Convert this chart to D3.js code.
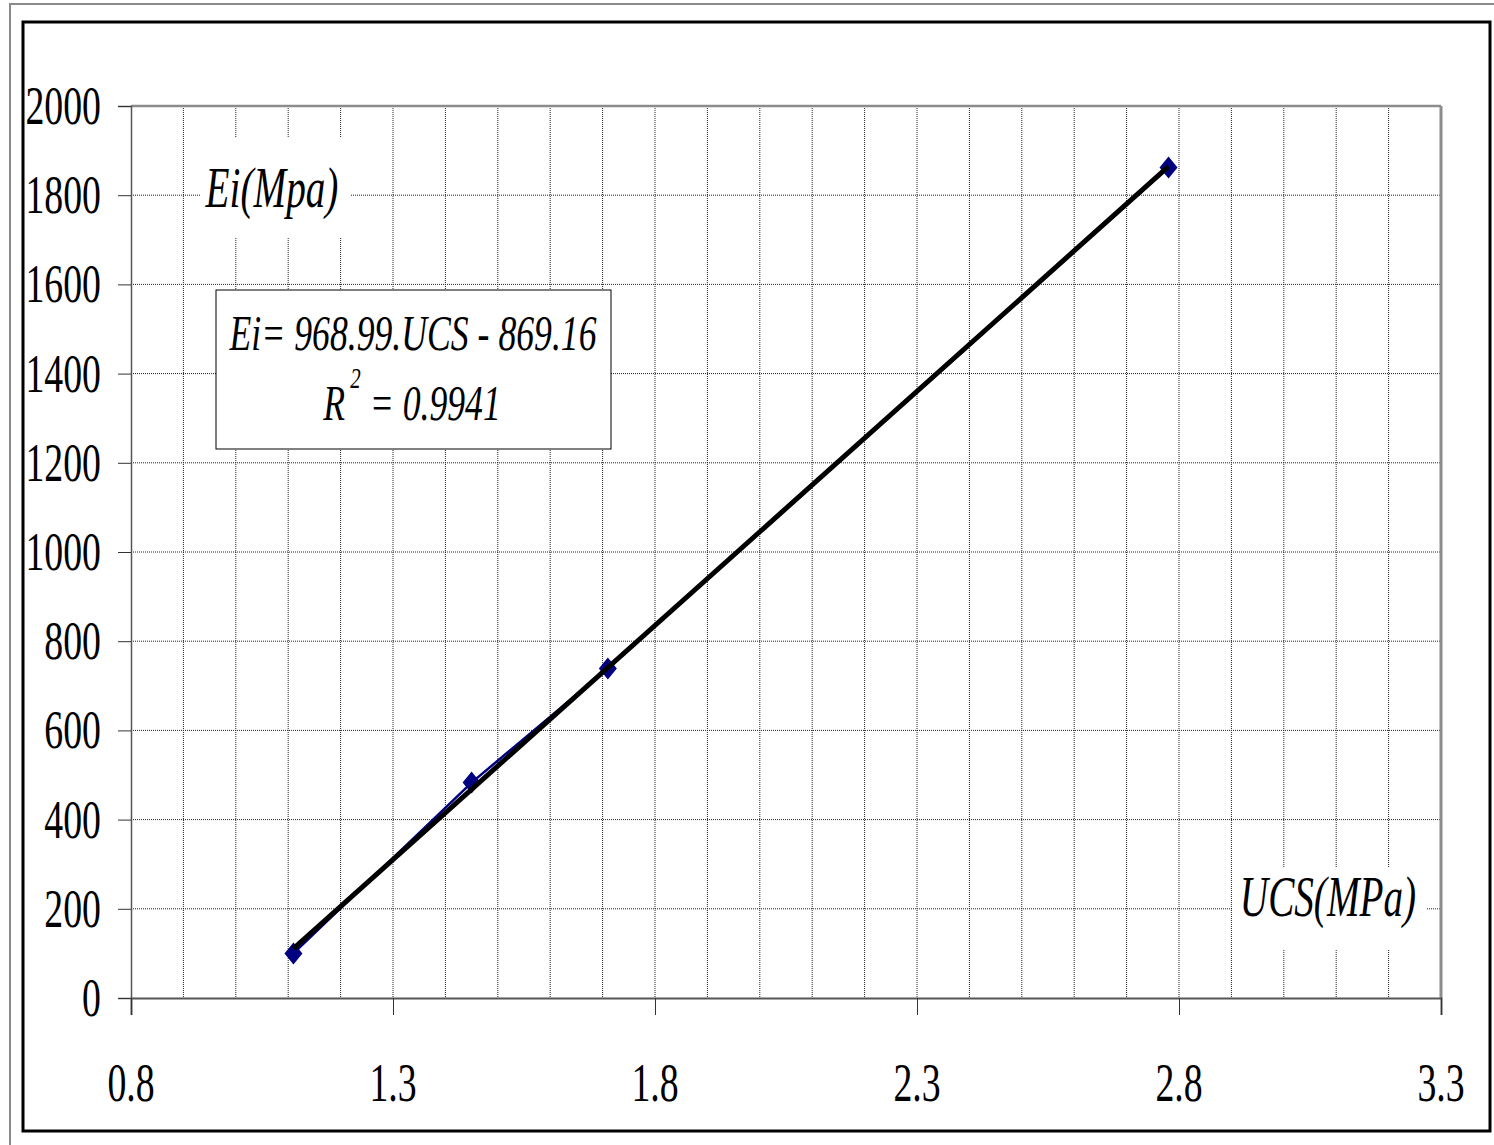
<!DOCTYPE html>
<html>
<head>
<meta charset="utf-8">
<script src="https://cdn.jsdelivr.net/npm/d3@7"></script>
<style>
  html, body { margin: 0; padding: 0; background: #fff; }
  svg { display: block; }
</style>
</head>
<body>
<svg id="chart" width="1494" height="1145"></svg>
<script>
// Measured samples: uniaxial compressive strength vs. initial modulus
const ucs = [1.11, 1.45, 1.71, 2.78];
const ei = [100, 483, 739, 1862];

// Axis ticks
const xTicks = [0.8, 1.3, 1.8, 2.3, 2.8, 3.3];
const xGrid = d3.range(9, 33).map(d => d / 10);
const yTicks = [0, 200, 400, 600, 800, 1000, 1200, 1400, 1600, 1800, 2000];

// Labels
const yTitle = "Ei(Mpa)";
const xTitle = "UCS(MPa)";
const eqLine1 = "Ei= 968.99.UCS - 869.16";
const r2Value = "0.9941";

const FONT = "'Liberation Serif', 'DejaVu Serif', serif";
const svg = d3.select("#chart");
const m = { left: 131, right: 1441, top: 106, bottom: 998 };

const x = d3.scaleLinear().domain([0.8, 3.3]).range([m.left, m.right]);
const y = d3.scaleLinear().domain([0, 2000]).range([m.bottom, m.top]);

const SX = 0.7; // narrow glyph width of the serif face

// Frames
svg.append("rect").attr("x", 10).attr("y", 4).attr("width", 1500).attr("height", 1160)
  .attr("fill", "none").attr("stroke", "#8a8a8a").attr("stroke-width", 2);
svg.append("rect").attr("x", 23).attr("y", 22).attr("width", 1467).attr("height", 1109)
  .attr("fill", "#fff").attr("stroke", "#000").attr("stroke-width", 3);

// Gridlines
const grid = svg.append("g");
grid.selectAll("line.v").data(xGrid).join("line")
  .attr("x1", d => x(d)).attr("x2", d => x(d))
  .attr("y1", m.top).attr("y2", m.bottom)
  .attr("stroke", "#222").attr("stroke-width", 1).attr("stroke-dasharray", "1,1");
grid.selectAll("line.h").data(yTicks.slice(1, -1)).join("line")
  .attr("x1", m.left).attr("x2", m.right)
  .attr("y1", d => y(d)).attr("y2", d => y(d))
  .attr("stroke", "#222").attr("stroke-width", 1).attr("stroke-dasharray", "1,1");

// Plot frame: top and right edges
svg.append("line").attr("x1", m.left).attr("x2", m.right).attr("y1", m.top).attr("y2", m.top)
  .attr("stroke", "#8c8c8c").attr("stroke-width", 2.5);
svg.append("line").attr("x1", m.right).attr("x2", m.right).attr("y1", m.top).attr("y2", m.bottom)
  .attr("stroke", "#8c8c8c").attr("stroke-width", 3);

// Axes
const yAxis = svg.append("g").attr("transform", `translate(${m.left},0)`)
  .call(d3.axisLeft(y).tickValues(yTicks).tickSize(13).tickFormat(""));
yAxis.select(".domain").attr("stroke", "#555").attr("stroke-width", 1.5);
yAxis.selectAll(".tick line").attr("stroke", "#333").attr("stroke-width", 1);

const xAxis = svg.append("g").attr("transform", `translate(0,${m.bottom})`)
  .call(d3.axisBottom(x).tickValues(xTicks).tickSize(17).tickFormat(""));
xAxis.select(".domain").attr("stroke", "#555").attr("stroke-width", 2);
xAxis.selectAll(".tick line").attr("stroke", "#333").attr("stroke-width", 1);

// Tick labels
svg.append("g").selectAll("text").data(yTicks).join("text")
  .attr("transform", d => `translate(101,${y(d) + 18}) scale(${SX},1)`)
  .attr("text-anchor", "end").attr("font-size", 54).attr("font-family", FONT)
  .text(d => d);
svg.append("g").selectAll("text").data(xTicks).join("text")
  .attr("transform", d => `translate(${x(d)},1101) scale(${SX},1)`)
  .attr("text-anchor", "middle").attr("font-size", 54).attr("font-family", FONT)
  .text(d => d3.format(".1f")(d));

// Axis titles on white patches
function title(cx, cy, bx, by, bw, bh, str) {
  svg.append("rect").attr("x", bx).attr("y", by).attr("width", bw).attr("height", bh).attr("fill", "#fff");
  svg.append("text")
    .attr("transform", `translate(${cx},${cy}) scale(${SX},1)`)
    .attr("text-anchor", "middle").attr("font-size", 56).attr("font-style", "italic")
    .attr("font-family", FONT)
    .text(str);
}
title(272, 207, 200, 137, 150, 101, yTitle);
title(1328, 916, 1232, 868, 195, 82, xTitle);

// Series line and markers
const pts = ucs.map((u, i) => [u, ei[i]]);
svg.append("path").datum(pts)
  .attr("d", d3.line().x(d => x(d[0])).y(d => y(d[1])))
  .attr("fill", "none").attr("stroke", "#000080").attr("stroke-width", 2.5);

// Least-squares trendline over the sample range
const mx = d3.mean(ucs), my = d3.mean(ei);
const slope = d3.sum(pts, d => (d[0] - mx) * (d[1] - my)) / d3.sum(ucs, u => (u - mx) ** 2);
const icpt = my - slope * mx;
const xr = d3.extent(ucs);

svg.append("g").selectAll("path").data(pts).join("path")
  .attr("transform", d => `translate(${x(d[0])},${y(d[1])})`)
  .attr("d", "M0,-11L9,0L0,11L-9,0Z")
  .attr("fill", "#000080");

svg.append("line")
  .attr("x1", x(xr[0])).attr("y1", y(slope * xr[0] + icpt))
  .attr("x2", x(xr[1])).attr("y2", y(slope * xr[1] + icpt))
  .attr("stroke", "#000").attr("stroke-width", 5);

// Equation box
svg.append("rect").attr("x", 216).attr("y", 290).attr("width", 395).attr("height", 159)
  .attr("fill", "#fff").attr("stroke", "#000").attr("stroke-width", 1);
svg.append("text")
  .attr("transform", `translate(413,350) scale(${SX},1)`)
  .attr("text-anchor", "middle").attr("font-size", 51).attr("font-style", "italic")
  .attr("font-family", FONT)
  .text(eqLine1);
const l2 = svg.append("text")
  .attr("transform", `translate(412,420) scale(${SX},1)`)
  .attr("text-anchor", "middle").attr("font-size", 51).attr("font-style", "italic")
  .attr("font-family", FONT);
l2.append("tspan").text("R");
l2.append("tspan").attr("font-size", 30).attr("dy", -32).text(" 2");
l2.append("tspan").attr("dy", 32).text(" = " + r2Value);
</script>
</body>
</html>
